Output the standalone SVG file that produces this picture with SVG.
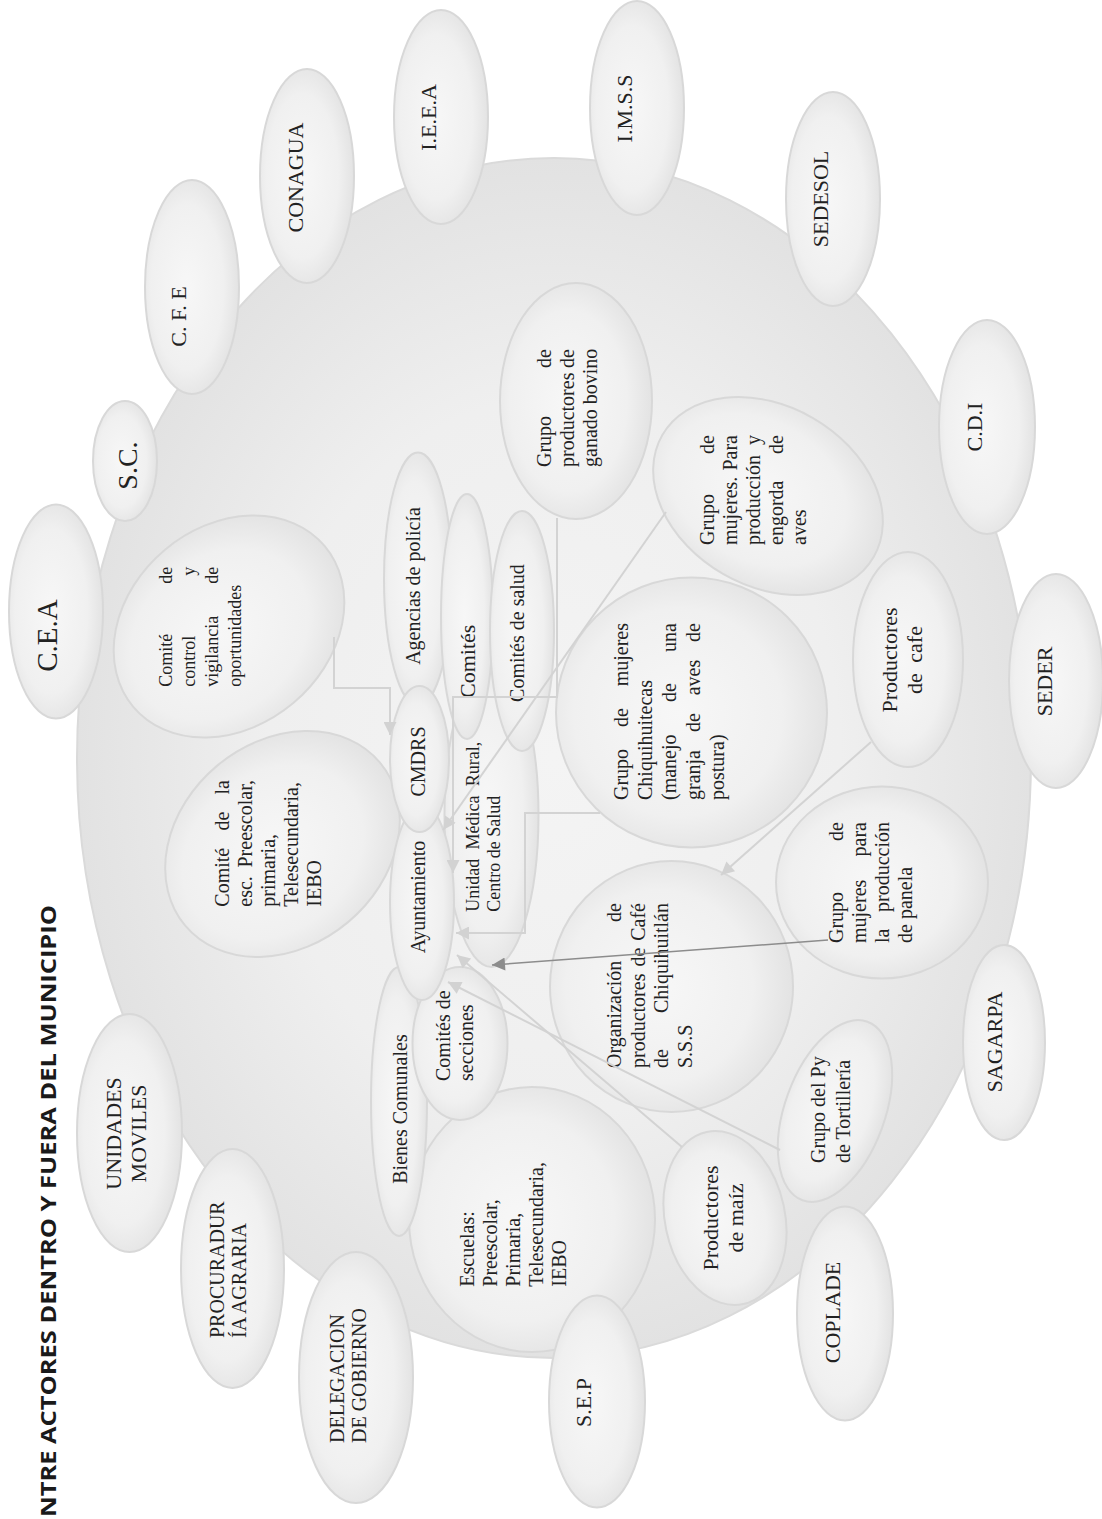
<svg xmlns="http://www.w3.org/2000/svg" width="1102" height="1519" viewBox="0 0 1102 1519">
<defs>
<radialGradient id="gBig" cx="50%" cy="50%" r="50%">
<stop offset="0" stop-color="#f4f4f4"/><stop offset="0.6" stop-color="#efefef"/><stop offset="1" stop-color="#e2e2e2"/>
</radialGradient>
<radialGradient id="gN" cx="50%" cy="45%" r="55%">
<stop offset="0" stop-color="#f7f7f7"/><stop offset="0.7" stop-color="#f0f0f0"/><stop offset="1" stop-color="#e3e3e3"/>
</radialGradient>
<marker id="aL" viewBox="0 0 10 10" refX="10" refY="5" markerWidth="15" markerHeight="13" markerUnits="userSpaceOnUse" orient="auto"><path d="M0,0 L10,5 L0,10 z" fill="#d2d2d2"/></marker>
<marker id="aD" viewBox="0 0 10 10" refX="10" refY="5" markerWidth="15" markerHeight="13" markerUnits="userSpaceOnUse" orient="auto"><path d="M0,0 L10,5 L0,10 z" fill="#8c8c8c"/></marker>
<style>
.big{fill:url(#gBig);stroke:#dadada;stroke-width:2}
.nd{fill:url(#gN);stroke:#d8d8d8;stroke-width:2}
.t{font-family:"Liberation Serif","Times New Roman",serif;font-size:20px;fill:#222222}
.o{font-size:22px}
.f18{font-size:18px}
.f28{font-size:28px}
.f29{font-size:29px}
.m{text-anchor:middle}
.e{text-anchor:end}
.ws{word-spacing:5px}
.c{fill:none;stroke:#d3d3d3;stroke-width:2;marker-end:url(#aL)}
.cd{fill:none;stroke:#8c8c8c;stroke-width:1.5;marker-end:url(#aD)}
.ttl{font-family:"Open Sans","Liberation Sans",sans-serif;font-weight:700;font-size:22px;fill:#1a1a1a}
</style>
</defs>
<rect width="1102" height="1519" fill="#ffffff"/>
<g transform="translate(0,1519) rotate(-90)">
<text class="ttl" x="2" y="56" textLength="612" lengthAdjust="spacingAndGlyphs">NTRE ACTORES DENTRO Y FUERA DEL MUNICIPIO</text>
<g id="municipio"><ellipse class="big" cx="761" cy="554" rx="600" ry="477"/></g>

<g id="n-control"><ellipse class="nd" cx="892.5" cy="229" rx="100" ry="125" transform="rotate(-40 892.5 229)"/>
<text class="t f18"><tspan x="832.3" y="172">Comité</tspan><tspan x="952.3" y="172" text-anchor="end">de</tspan><tspan x="832.3" y="195">control</tspan><tspan x="952.3" y="195" text-anchor="end">y</tspan><tspan x="832.3" y="218">vigilancia</tspan><tspan x="952.3" y="218" text-anchor="end">de</tspan><tspan x="832.3" y="241">oportunidades</tspan></text></g>

<g id="n-esc"><ellipse class="nd" cx="675" cy="282.5" rx="102" ry="127" transform="rotate(-40 675 282.5)"/>
<text class="t"><tspan x="612.3" y="229">Comité</tspan><tspan x="688.5" y="229">de</tspan><tspan x="739" y="229" text-anchor="end">la</tspan><tspan x="612.3" y="252">esc.</tspan><tspan x="739" y="252" text-anchor="end">Preescolar,</tspan><tspan x="612.3" y="275">primaria,</tspan><tspan x="612.3" y="298">Telesecundaria,</tspan><tspan x="612.3" y="321">IEBO</tspan></text></g>

<g id="n-bovino"><ellipse class="nd" cx="1118" cy="576" rx="118" ry="76"/>
<text class="t"><tspan x="1052" y="551">Grupo</tspan><tspan x="1170" y="551" text-anchor="end">de</tspan><tspan x="1052" y="574">productores</tspan><tspan x="1170" y="574" text-anchor="end">de</tspan><tspan x="1052" y="597">ganado bovino</tspan></text></g>

<g id="n-aves"><ellipse class="nd" cx="1023" cy="768" rx="90" ry="122" transform="rotate(30 1023 768)"/>
<text class="t"><tspan x="974" y="714">Grupo</tspan><tspan x="1084" y="714" text-anchor="end">de</tspan><tspan x="974" y="737">mujeres.</tspan><tspan x="1084" y="737" text-anchor="end">Para</tspan><tspan x="974" y="760">producción</tspan><tspan x="1084" y="760" text-anchor="end">y</tspan><tspan x="974" y="783">engorda</tspan><tspan x="1084" y="783" text-anchor="end">de</tspan><tspan x="974" y="806">aves</tspan></text></g>

<g id="n-chiqui"><ellipse class="nd" cx="806.5" cy="691.5" rx="135" ry="135.5"/>
<text class="t"><tspan x="719" y="628">Grupo</tspan><tspan x="792" y="628">de</tspan><tspan x="896" y="628" text-anchor="end">mujeres</tspan><tspan x="719" y="652">Chiquihuitecas</tspan><tspan x="719" y="676">(manejo</tspan><tspan x="817" y="676">de</tspan><tspan x="896" y="676" text-anchor="end">una</tspan><tspan x="719" y="700">granja</tspan><tspan x="787" y="700">de</tspan><tspan x="823.7" y="700">aves</tspan><tspan x="896" y="700" text-anchor="end">de</tspan><tspan x="719" y="724">postura)</tspan></text></g>

<g id="n-cafe"><ellipse class="nd" cx="859.5" cy="908" rx="107.5" ry="55"/>
<text class="t o m"><tspan x="859" y="897">Productores</tspan><tspan class="ws" x="859" y="922">de cafe</tspan></text></g>

<g id="n-panela"><ellipse class="nd" cx="636.5" cy="882" rx="96" ry="106"/>
<text class="t"><tspan x="576" y="843">Grupo</tspan><tspan x="697" y="843" text-anchor="end">de</tspan><tspan x="576" y="866">mujeres</tspan><tspan x="697" y="866" text-anchor="end">para</tspan><tspan x="576" y="889">la</tspan><tspan x="697" y="889" text-anchor="end">producción</tspan><tspan x="576" y="912">de panela</tspan></text></g>

<g id="n-org"><ellipse class="nd" cx="532.5" cy="671.5" rx="125.5" ry="121.5"/>
<text class="t"><tspan x="451" y="621">Organización</tspan><tspan x="616" y="621" text-anchor="end">de</tspan><tspan x="451" y="644.5">productores</tspan><tspan x="552.4" y="644.5">de</tspan><tspan x="616" y="644.5" text-anchor="end">Café</tspan><tspan x="451" y="668">de</tspan><tspan x="616" y="668" text-anchor="end">Chiquihuitlán</tspan><tspan x="451" y="691.5">S.S.S</tspan></text></g>

<g id="n-escuelas"><ellipse class="nd" cx="299.5" cy="532" rx="132.5" ry="123"/>
<text class="t"><tspan x="232.3" y="474">Escuelas:</tspan><tspan x="232.3" y="497">Preescolar,</tspan><tspan x="232.3" y="520">Primaria,</tspan><tspan x="232.3" y="543">Telesecundaria,</tspan><tspan x="232.3" y="566">IEBO</tspan></text></g>

<g id="n-bienes"><ellipse class="nd" cx="417.5" cy="399" rx="134.5" ry="28"/>
<text class="t m" x="410" y="407">Bienes Comunales</text></g>

<g id="n-secciones"><ellipse class="nd" cx="475.5" cy="460" rx="76.5" ry="47.5"/>
<text class="t"><tspan x="438" y="450">Comités de</tspan><tspan x="438" y="473">secciones</tspan></text></g>

<g id="n-maiz"><ellipse class="nd" cx="301" cy="725" rx="88" ry="60" transform="rotate(-12 301 725)"/>
<text class="t o m"><tspan x="301" y="718">Productores</tspan><tspan x="301" y="743">de maíz</tspan></text></g>

<g id="n-tortilla"><ellipse class="nd" cx="408" cy="835" rx="95" ry="50" transform="rotate(20 408 835)"/>
<text class="t"><tspan x="356" y="825">Grupo del Py</tspan><tspan x="356" y="850">de Tortillería</tspan></text></g>

<g id="n-unidad"><ellipse class="nd" cx="704" cy="491.5" rx="152" ry="47"/>
<text class="t f18"><tspan x="607.3" y="479">Unidad</tspan><tspan x="669.5" y="479">Médica</tspan><tspan x="777.3" y="479" text-anchor="end">Rural,</tspan><tspan x="607.3" y="500">Centro de Salud</tspan></text></g>

<g id="n-agencias"><ellipse class="nd" cx="940" cy="418" rx="126.5" ry="34"/>
<text class="t m" x="933" y="420">Agencias de policía</text></g>

<g id="n-comites"><ellipse class="nd" cx="902.5" cy="467" rx="122.5" ry="26"/>
<text class="t o" x="821" y="475">Comités</text></g>

<g id="n-salud"><ellipse class="nd" cx="888" cy="522" rx="120" ry="32"/>
<text class="t m" x="886" y="524">Comités de salud</text></g>

<g id="n-ayuntamiento"><ellipse class="nd" cx="616.5" cy="422" rx="97.5" ry="32"/>
<text class="t m" x="622" y="425">Ayuntamiento</text></g>

<g id="n-cmdrs"><ellipse class="nd" cx="760" cy="419.5" rx="73" ry="29.5"/>
<text class="t m" x="757.5" y="425">CMDRS</text></g>

<g id="o-cea"><ellipse class="nd" cx="907.5" cy="56" rx="107" ry="47"/><text class="t f29 m" x="883.5" y="57">C.E.A</text></g>
<g id="o-sc"><ellipse class="nd" cx="1058" cy="125" rx="60" ry="32"/><text class="t f28 m" x="1053.5" y="137">S.C.</text></g>
<g id="o-cfe"><ellipse class="nd" cx="1232" cy="192" rx="107" ry="47"/><text class="t o m" x="1202.5" y="186">C. F. E</text></g>
<g id="o-conagua"><ellipse class="nd" cx="1343" cy="307" rx="107" ry="47"/><text class="t o m" x="1341.5" y="303">CONAGUA</text></g>
<g id="o-ieea"><ellipse class="nd" cx="1402" cy="441" rx="107" ry="47"/><text class="t o m" x="1401.5" y="436">I.E.E.A</text></g>
<g id="o-imss"><ellipse class="nd" cx="1411" cy="637" rx="107" ry="47"/><text class="t o m" x="1410.5" y="632">I.M.S.S</text></g>
<g id="o-sedesol"><ellipse class="nd" cx="1320" cy="833" rx="107" ry="47"/><text class="t o m" x="1320" y="828">SEDESOL</text></g>
<g id="o-cdi"><ellipse class="nd" cx="1092" cy="987" rx="107" ry="48"/><text class="t o m" x="1092" y="982">C.D.I</text></g>
<g id="o-seder"><ellipse class="nd" cx="838" cy="1056" rx="107" ry="47"/><text class="t o m" x="837.5" y="1052">SEDER</text></g>
<g id="o-sagarpa"><ellipse class="nd" cx="476.5" cy="1004" rx="97.5" ry="41"/><text class="t o m" x="477" y="1002">SAGARPA</text></g>
<g id="o-coplade"><ellipse class="nd" cx="205.5" cy="845" rx="107" ry="48"/><text class="t o m" x="206.5" y="840">COPLADE</text></g>
<g id="o-sep"><ellipse class="nd" cx="117.5" cy="597" rx="106" ry="48"/><text class="t o m" x="116.5" y="591">S.E.P</text></g>
<g id="o-delegacion"><ellipse class="nd" cx="141.5" cy="356" rx="125.5" ry="57"/><text class="t"><tspan x="76" y="344">DELEGACION</tspan><tspan x="76" y="366">DE GOBIERNO</tspan></text></g>
<g id="o-procuraduria"><ellipse class="nd" cx="250.5" cy="232.5" rx="119.5" ry="51.5"/><text class="t"><tspan x="181" y="224">PROCURADUR</tspan><tspan x="181" y="246">ÍA AGRARIA</tspan></text></g>
<g id="o-unidades"><ellipse class="nd" cx="386" cy="129.5" rx="119" ry="52.5"/><text class="t o m"><tspan x="385.5" y="121">UNIDADES</tspan><tspan x="385.5" y="146">MOVILES</tspan></text></g>

<g id="connectors">
<path class="c" d="M882,334 L831,334 L831,390 L784,390"/>
<path class="c" d="M1001,557 L822,557 L822,453 L646,453"/>
<path class="c" d="M706,600 L706,525 L586,525 L586,456"/>
<path class="c" d="M1007,666 L689,443"/>
<path class="c" d="M777,871 L644,721"/>
<path class="c" d="M372,682 L564,457"/>
<path class="c" d="M369,780 L537,448"/>
<path class="cd" d="M579,828 L554,492"/>
</g>
</g>
</svg>
